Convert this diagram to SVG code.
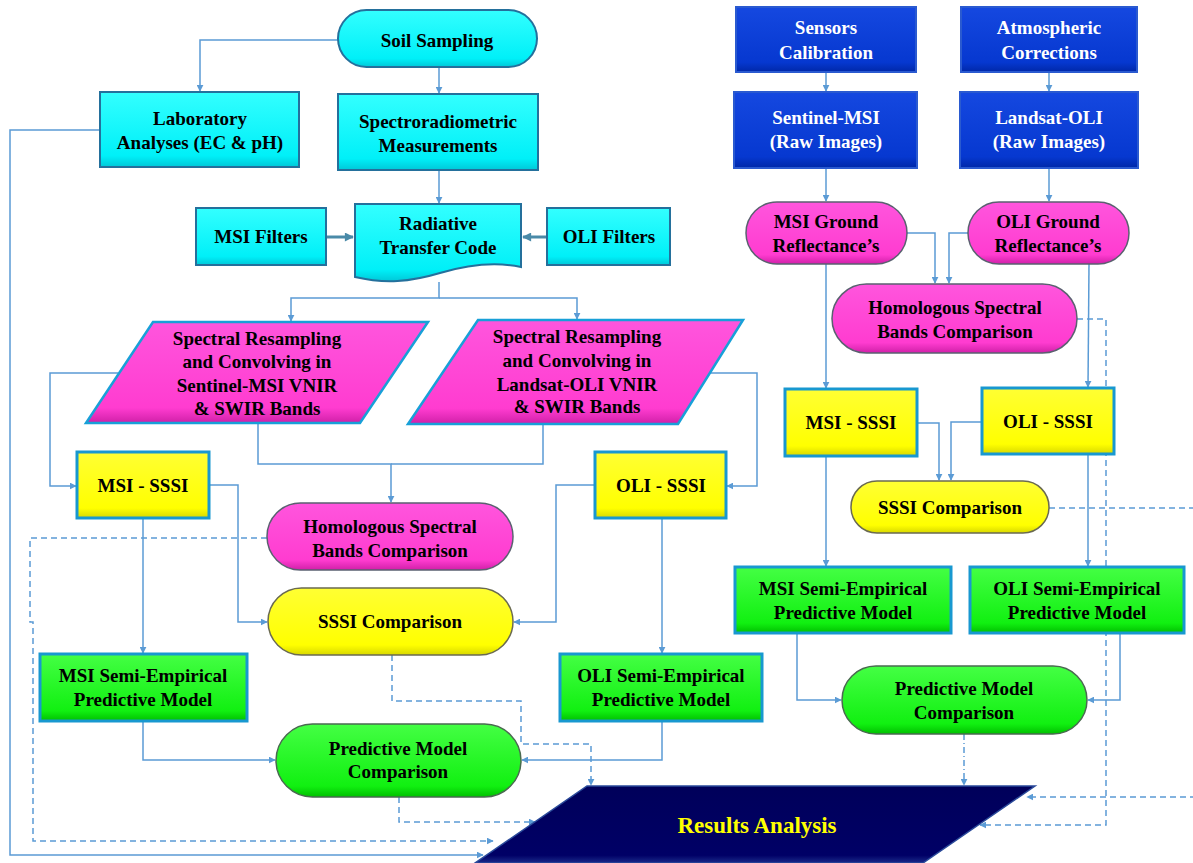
<svg xmlns="http://www.w3.org/2000/svg" width="1193" height="863" viewBox="0 0 1193 863">
<defs>
<marker id="ah" viewBox="0 0 10 10" refX="9" refY="5" markerWidth="7" markerHeight="7" markerUnits="userSpaceOnUse" orient="auto"><path d="M0,0 L10,5 L0,10 Z" fill="#5B9BD5"/></marker>
<marker id="ah2" viewBox="0 0 10 10" refX="9" refY="5" markerWidth="10" markerHeight="9" markerUnits="userSpaceOnUse" orient="auto"><path d="M0,0 L10,5 L0,10 Z" fill="#4A8AA8"/></marker>
<linearGradient id="gc" x1="0" y1="0" x2="0" y2="1"><stop offset="0" stop-color="#33FFFF"/><stop offset="0.85" stop-color="#00F0F8"/><stop offset="1" stop-color="#00C8D8"/></linearGradient>
<linearGradient id="gm" x1="0" y1="0" x2="0" y2="1"><stop offset="0" stop-color="#FF55DD"/><stop offset="0.85" stop-color="#FF3CD0"/><stop offset="1" stop-color="#D020A8"/></linearGradient>
<linearGradient id="gy" x1="0" y1="0" x2="0" y2="1"><stop offset="0" stop-color="#FFFF33"/><stop offset="0.85" stop-color="#FFFF00"/><stop offset="1" stop-color="#D8D800"/></linearGradient>
<linearGradient id="gg" x1="0" y1="0" x2="0" y2="1"><stop offset="0" stop-color="#44FF44"/><stop offset="0.85" stop-color="#11F011"/><stop offset="1" stop-color="#00C000"/></linearGradient>
<linearGradient id="gb" x1="0" y1="0" x2="0" y2="1"><stop offset="0" stop-color="#1548E0"/><stop offset="0.85" stop-color="#0638D0"/><stop offset="1" stop-color="#0028A8"/></linearGradient>
<linearGradient id="gn" x1="0" y1="0" x2="0" y2="1"><stop offset="0" stop-color="#00005A"/><stop offset="0.9" stop-color="#000066"/><stop offset="1" stop-color="#1A2A8A"/></linearGradient>
</defs>
<style>
text{font-family:"Liberation Serif","Times New Roman",serif;font-weight:bold;font-size:19px;text-anchor:middle;fill:#000}
.w{fill:#FFFFFF}
.ra{fill:#FFFF00;font-size:23px}
.cy{fill:url(#gc);stroke:#24709C;stroke-width:2}
.mg{fill:url(#gm);stroke:#5A6070;stroke-width:1.5}
.mgp{fill:url(#gm);stroke:#18A0D8;stroke-width:2.5}
.yr{fill:url(#gy);stroke:#1898D0;stroke-width:3}
.ys{fill:url(#gy);stroke:#6A6A50;stroke-width:1.5}
.gr{fill:url(#gg);stroke:#1898D0;stroke-width:3}
.gs{fill:url(#gg);stroke:#4A6A50;stroke-width:1.5}
.bl{fill:url(#gb);stroke:#2A5AD0;stroke-width:2}
.nv{fill:url(#gn);stroke:#2A4A9A;stroke-width:1.5}
.c{fill:none;stroke:#5B9BD5;stroke-width:1.5}
.d{fill:none;stroke:#5B9BD5;stroke-width:1.5;stroke-dasharray:6 4}
.dd{fill:none;stroke:#5B9BD5;stroke-width:1.5;stroke-dasharray:6 3 1 3}
.f{fill:none;stroke:#4A8AA8;stroke-width:3}
</style>
<g id="connectors">
<path class="c" d="M338 40 H200 V91" marker-end="url(#ah)"/>
<path class="c" d="M439 67 V93" marker-end="url(#ah)"/>
<path class="c" d="M439 170 V203" marker-end="url(#ah)"/>
<path class="f" d="M326 237 H353" marker-end="url(#ah2)"/>
<path class="f" d="M547 237 H523" marker-end="url(#ah2)"/>
<path class="c" d="M439 282 V298 H291 V321" marker-end="url(#ah)"/>
<path class="c" d="M439 298 H577 V319" marker-end="url(#ah)"/>
<path class="c" d="M118 373 H50 V486 H76" marker-end="url(#ah)"/>
<path class="c" d="M710 373 H757 V486 H727" marker-end="url(#ah)"/>
<path class="c" d="M258 423 V464 H391 V502" marker-end="url(#ah)"/>
<path class="c" d="M543 424 V464 H391"/>
<path class="c" d="M209 485 H238 V622 H267" marker-end="url(#ah)"/>
<path class="c" d="M595 485 H556 V622 H514" marker-end="url(#ah)"/>
<path class="c" d="M143 518 V653" marker-end="url(#ah)"/>
<path class="c" d="M662 518 V653" marker-end="url(#ah)"/>
<path class="c" d="M143 721 V760 H275" marker-end="url(#ah)"/>
<path class="c" d="M662 721 V760 H522" marker-end="url(#ah)"/>
<path class="c" d="M100 130 H10 V855 H483" marker-end="url(#ah)"/>
<path class="d" d="M267 538 H30 V622 H33 V841 H493" marker-end="url(#ah)"/>
<path class="d" d="M392 655 V701 H521 V744 H591 V785" marker-end="url(#ah)"/>
<path class="d" d="M399 797 V822 H535" marker-end="url(#ah)"/>
<path class="c" d="M826 72 V91" marker-end="url(#ah)"/>
<path class="c" d="M1049 72 V91" marker-end="url(#ah)"/>
<path class="c" d="M826 168 V201" marker-end="url(#ah)"/>
<path class="c" d="M1049 168 V201" marker-end="url(#ah)"/>
<path class="c" d="M907 233 H935 V283" marker-end="url(#ah)"/>
<path class="c" d="M968 233 H949 V283" marker-end="url(#ah)"/>
<path class="c" d="M826 264 V388" marker-end="url(#ah)"/>
<path class="c" d="M1089 264 L1088 387" marker-end="url(#ah)"/>
<path class="c" d="M917 423 H939 V480" marker-end="url(#ah)"/>
<path class="c" d="M982 422 H951 V480" marker-end="url(#ah)"/>
<path class="c" d="M826 456 V566" marker-end="url(#ah)"/>
<path class="c" d="M1088 454 V566" marker-end="url(#ah)"/>
<path class="c" d="M797 633 V700 H841" marker-end="url(#ah)"/>
<path class="c" d="M1120 633 V700 H1088" marker-end="url(#ah)"/>
<path class="d" d="M1077 319 H1106 V825 H980" marker-end="url(#ah)"/>
<path class="d" d="M1049 508 H1198 V797 H1027" marker-end="url(#ah)"/>
<path class="dd" d="M964 734 V785" marker-end="url(#ah)"/>
</g>
<g id="soil-sampling"><rect class="cy" x="338" y="10" width="199" height="57" rx="28.5"/><text x="437" y="47">Soil Sampling</text></g>
<g id="lab-analyses"><rect class="cy" x="100" y="92" width="199" height="75"/><text x="200" y="125">Laboratory</text><text x="200" y="149">Analyses (EC &amp; pH)</text></g>
<g id="spectro"><rect class="cy" x="338" y="94" width="200" height="76"/><text x="438" y="128">Spectroradiometric</text><text x="438" y="152">Measurements</text></g>
<g id="msi-filters"><rect class="cy" x="196" y="208" width="130" height="57"/><text x="261" y="243">MSI Filters</text></g>
<g id="radiative"><path class="cy" d="M355 204 H521 V267 C498 262 470 264 440 273 C410 282 385 284 355 277 Z"/><text x="438" y="230">Radiative</text><text x="438" y="254">Transfer Code</text></g>
<g id="oli-filters"><rect class="cy" x="547" y="208" width="123" height="57"/><text x="609" y="243">OLI Filters</text></g>
<g id="resample-msi"><path class="mgp" d="M153 322 H428 L360 423 H86 Z"/><text x="257" y="345">Spectral Resampling</text><text x="257" y="368">and Convolving in</text><text x="257" y="392">Sentinel-MSI VNIR</text><text x="257" y="415">&amp; SWIR Bands</text></g>
<g id="resample-oli"><path class="mgp" d="M478 320 H743 L678 424 H408 Z"/><text x="577" y="343">Spectral Resampling</text><text x="577" y="367">and Convolving in</text><text x="577" y="391">Landsat-OLI VNIR</text><text x="577" y="413">&amp; SWIR Bands</text></g>
<g id="msi-sssi-l"><rect class="yr" x="77" y="452" width="132" height="66"/><text x="143" y="492">MSI - SSSI</text></g>
<g id="oli-sssi-l"><rect class="yr" x="595" y="452" width="131" height="66"/><text x="661" y="492">OLI - SSSI</text></g>
<g id="homologous-l"><rect class="mg" x="267" y="503" width="246" height="67" rx="33.5"/><text x="390" y="533">Homologous Spectral</text><text x="390" y="557">Bands Comparison</text></g>
<g id="sssi-comp-l"><rect class="ys" x="268" y="588" width="245" height="67" rx="33.5"/><text x="390" y="628">SSSI Comparison</text></g>
<g id="msi-semi-l"><rect class="gr" x="40" y="654" width="207" height="67"/><text x="143" y="682">MSI Semi-Empirical</text><text x="143" y="706">Predictive Model</text></g>
<g id="oli-semi-l"><rect class="gr" x="560" y="654" width="202" height="67"/><text x="661" y="682">OLI Semi-Empirical</text><text x="661" y="706">Predictive Model</text></g>
<g id="pred-comp-l"><rect class="gs" x="276" y="724" width="245" height="73" rx="36.5"/><text x="398" y="755">Predictive Model</text><text x="398" y="778">Comparison</text></g>
<g id="sensors"><rect class="bl" x="736" y="7" width="180" height="65"/><text class="w" x="826" y="34">Sensors</text><text class="w" x="826" y="59">Calibration</text></g>
<g id="atmos"><rect class="bl" x="961" y="7" width="176" height="65"/><text class="w" x="1049" y="34">Atmospheric</text><text class="w" x="1049" y="59">Corrections</text></g>
<g id="sentinel"><rect class="bl" x="734" y="92" width="183" height="76"/><text class="w" x="826" y="124">Sentinel-MSI</text><text class="w" x="826" y="148">(Raw Images)</text></g>
<g id="landsat"><rect class="bl" x="960" y="92" width="178" height="76"/><text class="w" x="1049" y="124">Landsat-OLI</text><text class="w" x="1049" y="148">(Raw Images)</text></g>
<g id="msi-ground"><rect class="mg" x="746" y="202" width="161" height="62" rx="31"/><text x="826" y="228">MSI Ground</text><text x="826" y="252">Reflectance’s</text></g>
<g id="oli-ground"><rect class="mg" x="968" y="202" width="161" height="62" rx="31"/><text x="1048" y="228">OLI Ground</text><text x="1048" y="252">Reflectance’s</text></g>
<g id="homologous-r"><rect class="mg" x="832" y="284" width="245" height="69" rx="34.5"/><text x="955" y="314">Homologous Spectral</text><text x="955" y="338">Bands Comparison</text></g>
<g id="msi-sssi-r"><rect class="yr" x="785" y="389" width="132" height="67"/><text x="851" y="429">MSI - SSSI</text></g>
<g id="oli-sssi-r"><rect class="yr" x="982" y="388" width="132" height="66"/><text x="1048" y="428">OLI - SSSI</text></g>
<g id="sssi-comp-r"><rect class="ys" x="851" y="481" width="198" height="52" rx="26"/><text x="950" y="514">SSSI Comparison</text></g>
<g id="msi-semi-r"><rect class="gr" x="735" y="567" width="216" height="66"/><text x="843" y="595">MSI Semi-Empirical</text><text x="843" y="619">Predictive Model</text></g>
<g id="oli-semi-r"><rect class="gr" x="970" y="567" width="214" height="66"/><text x="1077" y="595">OLI Semi-Empirical</text><text x="1077" y="619">Predictive Model</text></g>
<g id="pred-comp-r"><rect class="gs" x="842" y="666" width="245" height="68" rx="34"/><text x="964" y="695">Predictive Model</text><text x="964" y="719">Comparison</text></g>
<g id="results"><path class="nv" d="M587 786 H1035 L923 863 H475 Z"/><text class="ra" x="757" y="833">Results Analysis</text></g>
</svg>
